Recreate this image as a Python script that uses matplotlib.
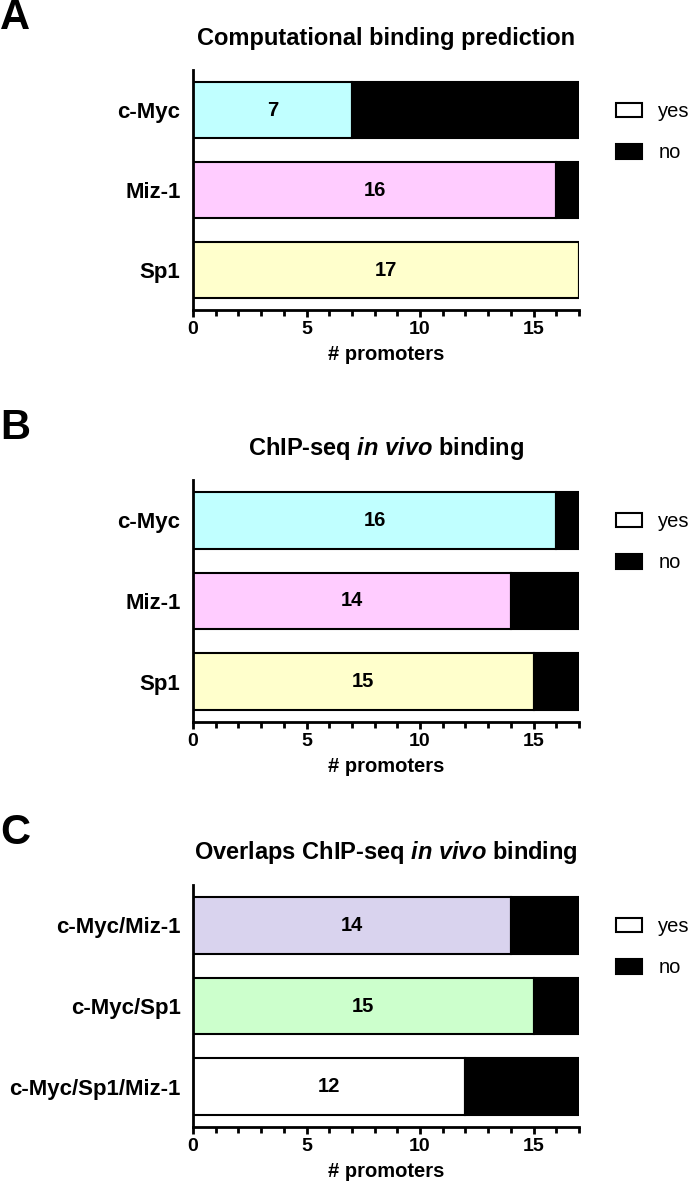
import matplotlib
matplotlib.use("Agg")
import matplotlib.pyplot as plt
from matplotlib.patches import Patch
from matplotlib.ticker import MultipleLocator

plt.rcParams['font.family'] = ['Liberation Sans', 'DejaVu Sans']
plt.rcParams['mathtext.fontset'] = 'custom'
plt.rcParams['mathtext.rm'] = 'Liberation Sans'
plt.rcParams['mathtext.it'] = 'Liberation Sans:italic'
plt.rcParams['mathtext.bf'] = 'Liberation Sans:bold'
plt.rcParams['mathtext.bfit'] = 'Liberation Sans:bold:italic'

TOTAL = 17
panel_letters = ["A", "B", "C"]
panel_titles = [
    r"Computational binding prediction",
    r"ChIP-seq $\bfit{in\ vivo}$ binding",
    r"Overlaps ChIP-seq $\bfit{in\ vivo}$ binding",
]
cats_A = ["c-Myc", "Miz-1", "Sp1"]
yes_A = [7, 16, 17]
cats_B = ["c-Myc", "Miz-1", "Sp1"]
yes_B = [16, 14, 15]
cats_C = ["c-Myc/Miz-1", "c-Myc/Sp1", "c-Myc/Sp1/Miz-1"]
yes_C = [14, 15, 12]
colors_AB = ["#C0FFFF", "#FFCCFF", "#FFFFCC"]
colors_C = ["#D9D3EE", "#CCFFCC", "#FFFFFF"]
xlabel = "# promoters"
legend_labels = ["yes", "no"]

W, H = 693, 1191
fig = plt.figure(figsize=(W / 100, H / 100), dpi=100)

# (axes top px, axes bottom px)
layout = [(70, 310), (480, 722), (885, 1127)]
left_px, right_px = 193, 579

panels = [
    (cats_A, yes_A, colors_AB),
    (cats_B, yes_B, colors_AB),
    (cats_C, yes_C, colors_C),
]

for i, ((cats, yes, cols), (top, bot)) in enumerate(zip(panels, layout)):
    ax = fig.add_axes([left_px / W, (H - bot) / H, (right_px - left_px) / W, (bot - top) / H])
    y = list(range(len(cats)))
    no = [TOTAL - v for v in yes]
    ax.barh(y, yes, height=0.7, color=cols, edgecolor="black", linewidth=1.5, zorder=2)
    ax.barh(y, no, left=yes, height=0.7, color="black", edgecolor="black", linewidth=1.5, zorder=2)
    for yi, v in zip(y, yes):
        ax.text(v / 2, yi, str(v), ha="center", va="center", fontsize=14.5, fontweight="bold", zorder=3)
    ax.set_xlim(0, TOTAL)
    ax.set_ylim(len(cats) - 0.5, -0.5)
    ax.set_yticks(y)
    ax.set_yticklabels(cats, fontsize=16, fontweight="bold")
    ax.tick_params(axis="y", length=0, pad=9)
    ax.xaxis.set_major_locator(MultipleLocator(5))
    ax.xaxis.set_minor_locator(MultipleLocator(1))
    ax.tick_params(axis="x", which="major", length=5, width=2, labelsize=14, pad=3)
    ax.tick_params(axis="x", which="minor", length=4, width=2)
    for lbl in ax.get_xticklabels():
        lbl.set_fontweight("bold")
    ax.set_xlabel(xlabel, fontsize=14.5, fontweight="bold", labelpad=5)
    for s in ["top", "right"]:
        ax.spines[s].set_visible(False)
    for s in ["left", "bottom"]:
        ax.spines[s].set_linewidth(2)
    handles = [Patch(facecolor="white", edgecolor="black", linewidth=1.5),
               Patch(facecolor="black", edgecolor="black", linewidth=1.5)]
    ax.legend(handles, legend_labels, loc="upper left",
              bbox_to_anchor=((616 - left_px) / (right_px - left_px), 1 - (102 - 70) / (bot - top)),
              frameon=False, fontsize=14.5, handlelength=1.3, handleheight=0.75,
              handletextpad=0.8, labelspacing=1.1, borderpad=0, borderaxespad=0)
    # title and letter
    fig.text((left_px + right_px) / 2 / W, (H - (top - 32)) / H, panel_titles[i],
             ha="center", va="center", fontsize=17, fontweight="bold")
    fig.text(0 / W, (H - (top - 52)) / H, panel_letters[i],
             ha="left", va="center", fontsize=30, fontweight="bold")

fig.savefig("out.png", dpi=100)
